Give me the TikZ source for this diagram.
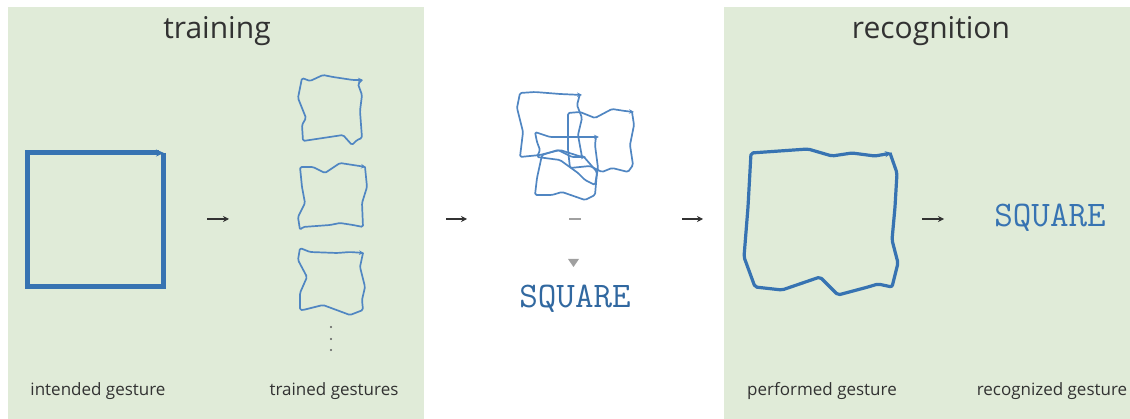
\documentclass[tikz,border=0pt]{standalone}
\usepackage{fontspec}
\setmainfont{Open Sans}
\usetikzlibrary{arrows.meta}
\definecolor{panel}{RGB}{224,235,216}
\definecolor{gblue}{RGB}{55,115,178}
\definecolor{lblue}{RGB}{80,134,194}
\definecolor{dgray}{RGB}{50,50,50}
\definecolor{mgray}{RGB}{160,160,160}
\tikzset{
  panelbox/.style={fill=panel,draw=none},
  title/.style={anchor=base,font=\fontsize{30}{33}\selectfont,text=dgray,inner sep=0pt},
  label/.style={anchor=base,font=\fontsize{17}{19}\selectfont,text=dgray,inner sep=0pt},
  flow/.style={draw=dgray,line width=1.3pt,-{Stealth[length=6pt,width=6pt]}},
  thin gesture/.style={draw=lblue,line width=1.7pt,line join=round,rounded corners=1.5pt,-{Stealth[length=5pt,width=4.5pt]}},
  thick gesture/.style={draw=gblue,line width=3.2pt,line join=round,rounded corners=2pt,-{Stealth[length=7pt,width=6pt]}},
  ideal gesture/.style={draw=gblue,line width=5pt,line join=miter,-{Stealth[length=8pt,width=7pt]}},
  wordout/.style={font=\ttfamily\addfontfeatures{FakeBold=1.2}\fontsize{36}{38}\selectfont,text=gblue,inner sep=0pt},
}
\begin{document}
\begin{tikzpicture}[x=1pt,y=-1pt]
\useasboundingbox (0,0) rectangle (1130,419);
\fill[white] (0,0) rectangle (1130,419);
% panels
\path[panelbox] (8,7) rectangle (424,419);
\path[panelbox] (724,7) rectangle (1130,419);
% titles
\node[title] (ttrain) at (217,39) {training};
\node[title] (trec) at (931,39) {recognition};
% labels
\node[label] (lint) at (98,396) {intended gesture};
\node[label] (ltrain) at (334,396) {trained gestures};
\node[label] (lperf) at (822,396) {performed gesture};
\node[label] (lrec) at (1052,396) {recognized gesture};
% intended gesture
\draw[ideal gesture] (163,153) -- (163,287) -- (27,287) -- (27,153) -- (164,153);
% trained gestures
\draw[thin gesture] (362,80) -- (358,84) -- (362,95) -- (360,111) -- (362,138) -- (357,140) -- (352,145) -- (343,135) -- (323,138) -- (303,141) -- (302,125) -- (306,118) -- (298,98) -- (302,78) -- (310,81) -- (323,75) -- (333,77) -- (353,80) -- (363,80);
\draw[thin gesture] (365,167) -- (367,187) -- (362,203) -- (363,227) -- (353,225) -- (340,223) -- (330,225) -- (303,227) -- (300,230) -- (298,217) -- (305,203) -- (302,187) -- (300,167) -- (313,167) -- (325,173) -- (340,163) -- (353,165) -- (366,167);
\draw[thin gesture] (363,253) -- (360,267) -- (365,287) -- (362,300) -- (363,310) -- (350,315) -- (323,305) -- (303,310) -- (300,310) -- (300,293) -- (307,277) -- (298,260) -- (300,248) -- (310,252) -- (337,253) -- (350,252) -- (364,253);
\foreach \yy in {327,339,350}{\fill[dgray!80] (331,\yy) circle (1.2pt);}
% arrows
\coordinate (a1s) at (207,219); \coordinate (a1e) at (229,219);
\coordinate (a2s) at (446,219); \coordinate (a2e) at (467,219);
\coordinate (a3s) at (682,219); \coordinate (a3e) at (703,219);
\coordinate (a4s) at (922,219); \coordinate (a4e) at (944,219);
\draw[flow] (a1s) -- (a1e);
\draw[flow] (a2s) -- (a2e);
\draw[flow] (a3s) -- (a3e);
\draw[flow] (a4s) -- (a4e);
% cluster of trained gestures (model)
\draw[thin gesture] (580,94) -- (577,105) -- (582,118) -- (578,135) -- (582,157) -- (560,150) -- (540,155) -- (520,157) -- (523,132) -- (517,108) -- (520,93) -- (535,92) -- (560,94) -- (582,95);
\draw[thin gesture] (632,112) -- (634,125) -- (630,145) -- (633,165) -- (628,172) -- (612,168) -- (602,172) -- (590,166) -- (570,168) -- (568,150) -- (568,132) -- (568,113) -- (580,112) -- (595,118) -- (612,109) -- (625,111) -- (634,112);
\draw[thin gesture] (596,137) -- (595,145) -- (598,168) -- (595,185) -- (585,180) -- (578,173) -- (560,160) -- (537,157) -- (540,150) -- (537,142) -- (535,132) -- (550,137) -- (572,137) -- (599,137);
\draw[thin gesture] (584,157) -- (597,172) -- (595,195) -- (585,200) -- (562,192) -- (552,195) -- (535,195) -- (537,178) -- (542,155) -- (558,150) -- (572,157) -- (586,157);
% dash and down marker
\coordinate (dashl) at (569,219); \coordinate (dashr) at (581,219);
\draw[mgray,line width=2pt] (dashl) -- (dashr);
\fill[mgray] (568,259) -- (579,259) -- (573.5,267) -- cycle;
\node[wordout,text=gblue!90!black] (sqc) at (575,299) {SQUARE};
% performed gesture
\draw[thick gesture] (890,153) -- (897,173) -- (895,207) -- (892,240) -- (898,263) -- (892,287) -- (878,284) -- (868,287) -- (838,295) -- (820,277) -- (782,290) -- (755,287) -- (744,257) -- (748,207) -- (751,153) -- (808,149) -- (832,156) -- (852,153) -- (875,156) -- (892,153);
% recognized
\node[wordout] (sqr) at (1050,218) {SQUARE};
\end{tikzpicture}
\end{document}
